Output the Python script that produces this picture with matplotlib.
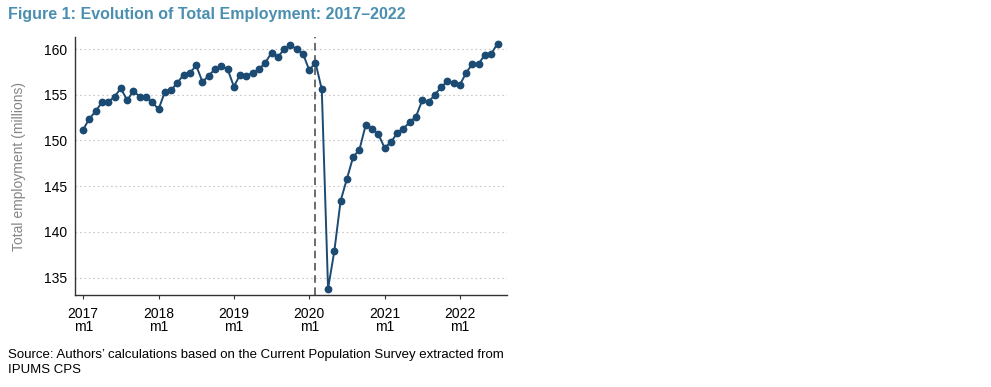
import matplotlib
matplotlib.use('agg')

import numpy as np
import matplotlib.pyplot as plt

# monthly total employment (millions), 2017m1 .. 2022m7
employment = [
    151.2, 152.4, 153.2, 154.2, 154.2, 154.8, 155.7, 154.4, 155.4, 154.8, 154.8, 154.2,
    153.4, 155.3, 155.5, 156.3, 157.2, 157.4, 158.2, 156.4, 157.1, 157.8, 158.1, 157.8,
    155.9, 157.2, 157.1, 157.4, 157.8, 158.5, 159.6, 159.1, 160.0, 160.4, 160.0, 159.5,
    157.7, 158.5, 155.6, 133.8, 137.9, 143.4, 145.8, 148.2, 149.0, 151.7, 151.3, 150.7,
    149.2, 149.8, 150.8, 151.3, 152.0, 152.6, 154.4, 154.2, 155.0, 155.8, 156.5, 156.3,
    156.1, 157.4, 158.4, 158.4, 159.4, 159.5, 160.6,
]
years = [2017, 2018, 2019, 2020, 2021, 2022]
yticks = [135, 140, 145, 150, 155, 160]
covid_month = 37  # 2020m2

months = np.arange(len(employment))

fig = plt.figure(figsize=(9.91, 3.87), dpi=100)
ax = fig.add_axes([0.0757, 0.2377, 0.4359, 0.6663])

ax.plot(months, employment, color='#1b4a73', linewidth=1.4,
        marker='o', markersize=4.6, zorder=3)
ax.axvline(covid_month, color='#444444', linestyle=(0, (5, 3)), linewidth=1.1, zorder=2)

ax.set_xlim(-1.3, 67.5)
ax.set_ylim(133.1, 161.3)
ax.set_yticks(yticks)
ax.set_xticks([12 * i for i in range(len(years))])
ax.set_xticklabels([f'{y}\nm1' for y in years], fontsize=10, linespacing=0.95)
ax.tick_params(axis='y', length=0, labelsize=10, pad=6)
ax.tick_params(axis='x', length=3, color='#333333', pad=5.5)
ax.grid(axis='y', color='#c8c8c8', linestyle=(0, (1.5, 2.5)), linewidth=0.8)
ax.set_axisbelow(True)

for side in ['top', 'right']:
    ax.spines[side].set_visible(False)
for side in ['left', 'bottom']:
    ax.spines[side].set_color('#333333')
    ax.spines[side].set_linewidth(1.0)

ax.set_ylabel('Total employment (millions)', fontsize=10, color='#858585', labelpad=13)

fig.text(0.008, 0.962, 'Figure 1: Evolution of Total Employment: 2017\u20132022',
         fontsize=11.5, fontweight='bold', color='#4a8fb0', va='center', ha='left',
         family='Liberation Sans')
fig.text(0.008, 0.064, 'Source: Authors\u2019 calculations based on the Current Population Survey extracted from\nIPUMS CPS',
         fontsize=9.5, color='black', va='center', ha='left', linespacing=1.35,
         family='Liberation Sans')

for lab in ax.get_xticklabels() + ax.get_yticklabels():
    lab.set_family('Liberation Sans')
ax.yaxis.label.set_family('Liberation Sans')

fig.savefig('out.png', dpi=100)
